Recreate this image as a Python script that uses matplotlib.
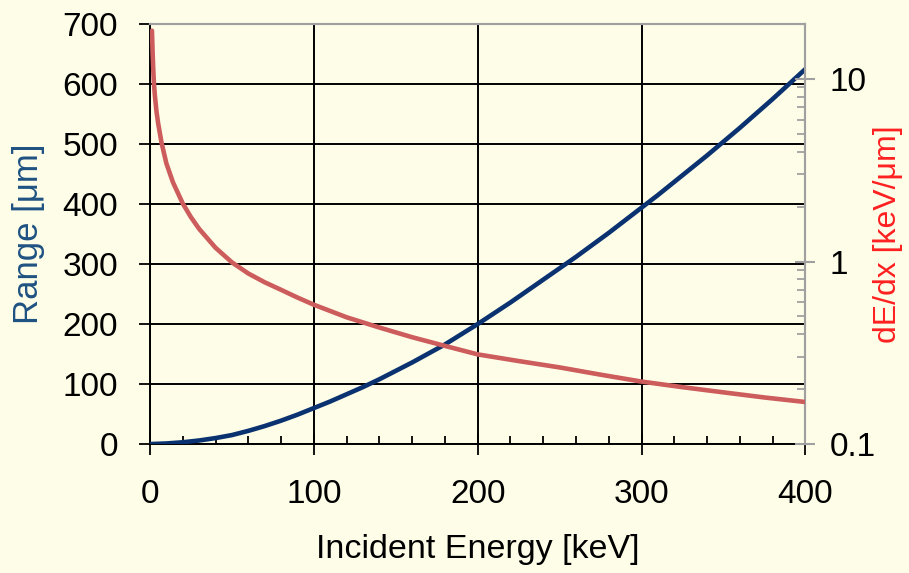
import matplotlib
matplotlib.use("Agg")
import matplotlib.pyplot as plt
from matplotlib.ticker import MultipleLocator, LogLocator, NullFormatter

plt.rcParams['font.family'] = ['Liberation Sans', 'DejaVu Sans']

# Range (left axis, um) vs incident energy (keV)
energy_range = [0, 10, 20, 30, 40, 50, 60, 70, 80, 90, 100, 110, 120, 130, 140,
                150, 160, 170, 180, 190, 200, 210, 220, 230, 240, 250, 260, 270,
                280, 290, 300, 310, 320, 330, 340, 350, 360, 370, 380, 390, 400]
range_um = [0, 1, 3, 6, 10, 15, 22, 30, 39, 49, 60, 71, 83, 95, 108,
            122, 136, 151, 166, 183, 200, 218, 236, 255, 274, 293, 312, 332,
            352, 373, 394, 415, 437, 459, 481, 504, 527, 551, 575, 600, 625]

# Stopping power dE/dx (right axis, keV/um, log scale)
energy_dedx = [1.2, 1.6, 2.0, 2.4, 3, 4, 5, 7, 10, 14, 20, 25, 30, 40, 50, 60,
               70, 80, 90, 100, 120, 140, 160, 180, 200, 225, 250, 275, 300,
               325, 350, 375, 400]
dedx = [18.4, 14.0, 11.3, 9.5, 8.1, 6.6, 5.7, 4.5, 3.45, 2.72, 2.08, 1.75,
        1.51, 1.19, 0.99, 0.86, 0.77, 0.70, 0.635, 0.58, 0.495, 0.435, 0.385,
        0.345, 0.31, 0.285, 0.263, 0.24, 0.22, 0.205, 0.192, 0.18, 0.17]

bg = '#fefee8'
blue = '#0b3270'
red = '#cd5c5c'
gray = '#a0a0a0'

fig = plt.figure(figsize=(9.09, 5.73), dpi=100, facecolor=bg)
ax = fig.add_axes([0.165, 0.225, 0.721, 0.733])
ax.set_facecolor(bg)
ax2 = ax.twinx()

# left axis: range
ax.plot(energy_range, range_um, color=blue, lw=3.3, solid_capstyle='round', zorder=3)
ax.set_xlim(0, 400)
ax.set_ylim(0, 700)
ax.xaxis.set_major_locator(MultipleLocator(100))
ax.xaxis.set_minor_locator(MultipleLocator(20))
ax.yaxis.set_major_locator(MultipleLocator(100))
ax.grid(True, which='major', color='black', lw=1.4)
ax.set_axisbelow(True)
ax.tick_params(axis='x', which='major', direction='inout', length=16, width=1.3,
               labelsize=24, pad=17)
ax.tick_params(axis='x', which='minor', direction='in', length=6, width=1.3)
ax.tick_params(axis='y', which='major', direction='out', length=8, width=1.3,
               labelsize=24, pad=15)
for s in ('left', 'bottom'):
    ax.spines[s].set_color('black')
    ax.spines[s].set_linewidth(1.4)
for s in ('top', 'right'):
    ax.spines[s].set_color(gray)
    ax.spines[s].set_linewidth(1.5)

ax.set_xlabel('Incident Energy [keV]', fontsize=24.5)
ax.xaxis.set_label_coords(0.5, -0.215)
ax.set_ylabel('Range [μm]', fontsize=25, color='#1f5282')
ax.yaxis.set_label_coords(-0.16, 0.5)

# right axis: dE/dx
ax2.plot(energy_dedx, dedx, color=red, lw=3.3, solid_capstyle='round', zorder=3)
ax2.set_yscale('log')
ax2.set_ylim(0.1, 20)
ax2.yaxis.set_minor_locator(LogLocator(base=10, subs=range(2, 10)))
ax2.yaxis.set_minor_formatter(NullFormatter())
ax2.set_yticks([0.1, 1, 10])
ax2.set_yticklabels(['0.1', '1', '10'])
ax2.tick_params(axis='y', which='major', direction='inout', length=15, width=1.5,
                color=gray, labelsize=24, pad=10)
ax2.tick_params(axis='y', which='minor', direction='in', length=6, width=1.3,
                color=gray)
ax2.spines['left'].set_visible(False)
ax2.spines['bottom'].set_visible(False)
for s in ('top', 'right'):
    ax2.spines[s].set_color(gray)
    ax2.spines[s].set_linewidth(1.5)
ax2.set_ylabel('dE/dx [keV/μm]', fontsize=23, color='#ff2020')
ax2.yaxis.set_label_coords(1.103, 0.5)

fig.savefig('out.png', dpi=100, facecolor=bg)
